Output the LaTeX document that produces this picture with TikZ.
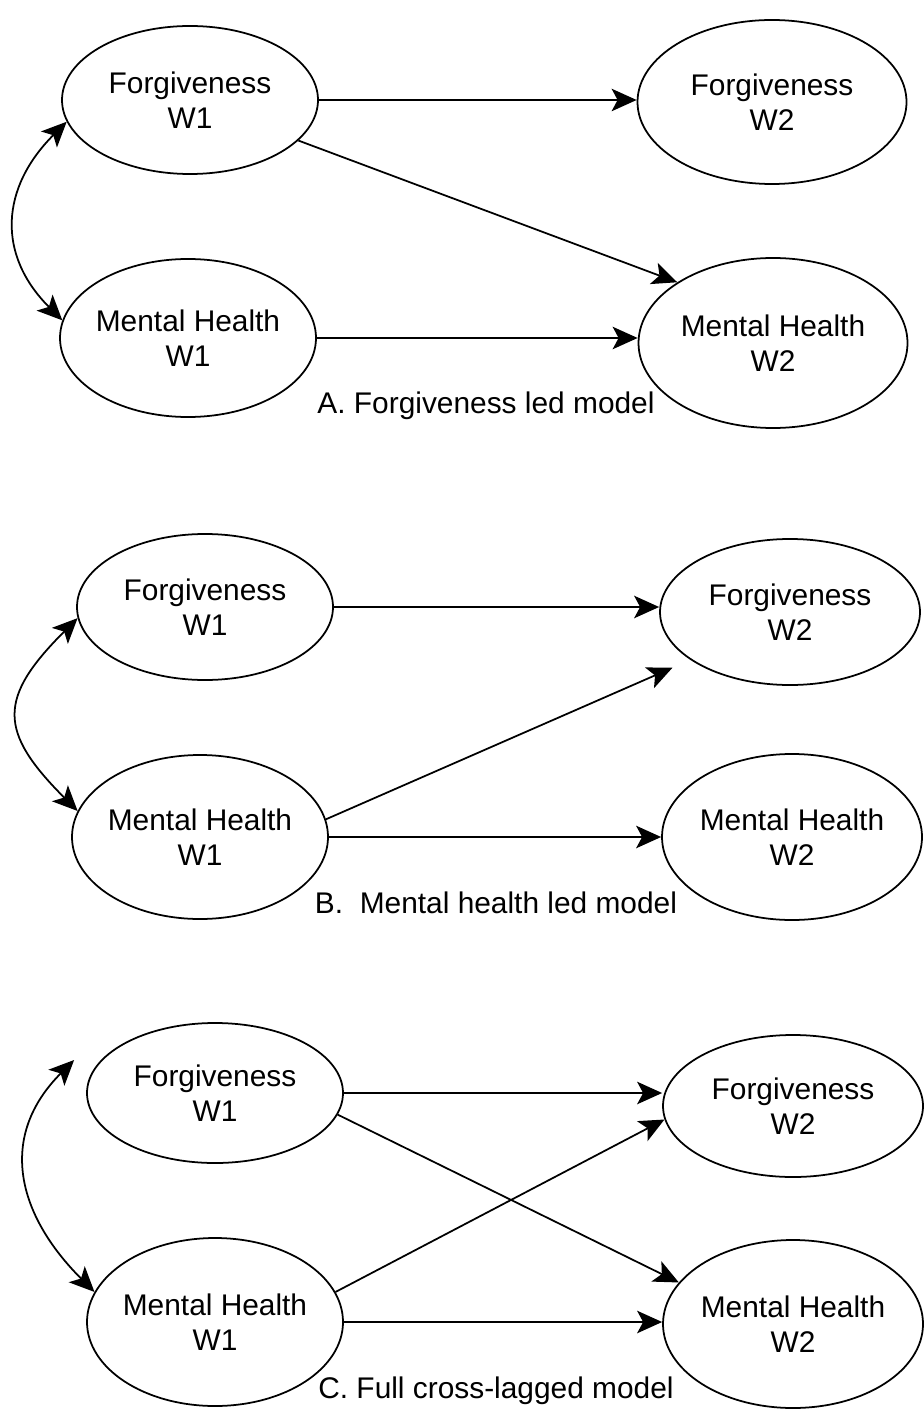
\documentclass[tikz,border=0pt]{standalone}
\usepackage{fontspec}
\setmainfont{Liberation Sans}
\usetikzlibrary{shapes.geometric,arrows.meta}

\begin{document}
\begin{tikzpicture}[node distance=11.7cm, line width=1pt,
    >={Stealth[length=0.5cm, width=0.45cm, inset=0.12cm]},
    font=\fontsize{17}{20}\selectfont,
    var/.style={ellipse, draw, align=center, inner sep=0pt, inner xsep=-2pt, minimum width=5.12cm}]
    \useasboundingbox (0,0) rectangle (18.46,-28.24);

    % A. Forgiveness led model
    \node [var, minimum height=2.96cm] (fgA1) at (3.80,-2.00) {Forgiveness\\W1};
    \node [var, minimum height=3.16cm] (mhA1) at (3.76,-6.76) {Mental Health\\W1};
    \node [var, minimum width=5.38cm, minimum height=3.28cm, right of=fgA1, xshift=-0.06cm, yshift=-0.04cm] (fgA2) {Forgiveness\\W2};
    \node [var, minimum width=5.38cm, minimum height=3.40cm, right of=mhA1, yshift=-0.10cm] (mhA2) {Mental Health\\W2};
    \node (capA) at (9.72,-8.12) {A. Forgiveness led model};

    % B. Mental health led model
    \node [var, minimum height=2.92cm] (fgB1) at (4.10,-12.14) {Forgiveness\\W1};
    \node [var, minimum height=3.28cm] (mhB1) at (4.00,-16.74) {Mental Health\\W1};
    \node [var, minimum width=5.20cm, minimum height=2.92cm, right of=fgB1, yshift=-0.10cm] (fgB2) {Forgiveness\\W2};
    \node [var, minimum width=5.20cm, minimum height=3.32cm, right of=mhB1, xshift=0.14cm] (mhB2) {Mental Health\\W2};
    \node (capB) at (9.92,-18.06) {B.\ \ Mental health led model};

    % C. Full cross-lagged model
    \node [var, minimum height=2.80cm] (fgC1) at (4.30,-21.86) {Forgiveness\\W1};
    \node [var, minimum height=3.36cm] (mhC1) at (4.30,-26.44) {Mental Health\\W1};
    \node [var, minimum width=5.20cm, minimum height=2.84cm, right of=fgC1, xshift=-0.14cm, yshift=-0.26cm] (fgC2) {Forgiveness\\W2};
    \node [var, minimum width=5.20cm, minimum height=3.36cm, right of=mhC1, xshift=-0.14cm, yshift=-0.04cm] (mhC2) {Mental Health\\W2};
    \node (capC) at (9.92,-27.82) {C. Full cross-lagged model};

    % Free arrow ends
    \coordinate (fgB2in) at ([xshift=-0.5cm, yshift=-0.07cm]fgB2.south west);
    \coordinate (fgC1in) at ([xshift=-0.24cm, yshift=0.66cm]fgC1.west);

    % Arrows A
    \draw[->] (fgA1.east) -- (fgA1.east -| fgA2.west);
    \draw[->] (fgA1) -- (mhA2.north west);
    \draw[->] (mhA1.east) -- (mhA1.east -| mhA2.west);
    \draw[<->] (fgA1.190) to[out=225, in=135, looseness=1.2] (mhA1.172);

    % Arrows B
    \draw[->] (fgB1.east) -- (fgB1.east -| fgB2.west);
    \draw[->] (mhB1.8) -- (fgB2in);
    \draw[->] (mhB1.east) -- (mhB1.east -| mhB2.west);
    \draw[<->] (fgB1.185) to[out=225, in=135, looseness=1.5] (mhB1.168);

    % Arrows C
    \draw[->] (fgC1.east) -- (fgC1.east -| fgC2.west);
    \draw[->] (fgC1.-10) -- (mhC2.160);
    \draw[->] (mhC1.14) -- (fgC2.186);
    \draw[->] (mhC1.east) -- (mhC1.east -| mhC2.west);
    \draw[<->] (fgC1in) to[out=225, in=135, looseness=1.2] (mhC1.166);
\end{tikzpicture}
\end{document}
